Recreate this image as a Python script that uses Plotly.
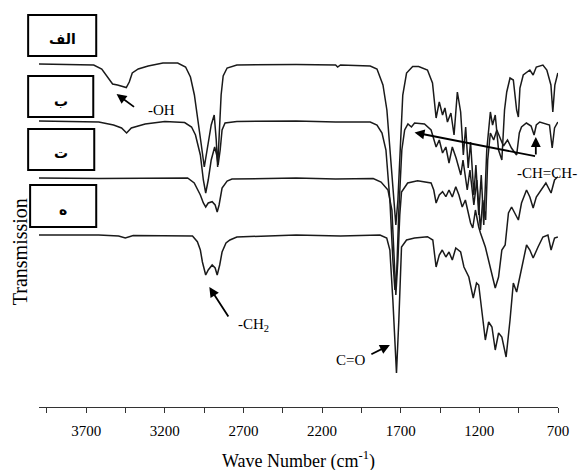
import plotly.graph_objects as go

# ---------------- data (wavenumber cm-1, transmission in arbitrary offset units) ----------------
wn_a = [4000, 3871, 3652, 3601, 3558, 3532, 3501, 3470, 3445, 3426, 3407, 3369, 3306, 3212, 3118, 3068,
        3037, 3012, 2993, 2968, 2949, 2930, 2905, 2886, 2873, 2864, 2854, 2842, 2829, 2804, 2742, 2365,
        2114, 2101, 2083, 1894, 1851, 1813, 1788, 1763, 1743, 1731, 1718, 1700, 1687, 1663, 1624, 1586,
        1530, 1498, 1475, 1455, 1434, 1419, 1403, 1381, 1361, 1340, 1319, 1302, 1287, 1271, 1256, 1235,
        1222, 1204, 1188, 1172, 1153, 1130, 1116, 1099, 1078, 1057, 1040, 1026, 1005, 984, 963, 952,
        942, 921, 879, 858, 838, 796, 771, 745, 733, 720, 701]
t_a = [336, 335.5, 335, 331, 322, 316, 315, 314, 312.5, 318, 327, 331, 334, 337, 337, 333,
       323, 305, 285, 255, 233, 250, 275, 285, 260, 233, 260, 305, 324, 332, 335, 335.5,
       335, 333, 335, 334, 331, 315, 290, 240, 195, 175, 200, 260, 305, 327, 333.5, 333.5,
       330, 317, 282, 298, 285, 292, 278, 287, 265, 308, 288, 245, 273, 232, 258, 205,
       235, 185, 225, 175, 250, 288, 275, 285, 250, 240, 290, 308, 322, 320, 290, 283,
       312, 325, 330, 325, 333, 335, 330, 315, 288, 315, 327]

wn_b = [4000, 3620, 3526, 3475, 3443, 3413, 3325, 3200, 3074, 3030, 3005, 2974, 2955, 2940, 2924, 2905,
        2883, 2870, 2861, 2848, 2836, 2817, 2742, 2365, 2114, 1894, 1851, 1819, 1794, 1769, 1750, 1737,
        1725, 1712, 1693, 1675, 1654, 1632, 1612, 1549, 1507, 1475, 1455, 1434, 1413, 1393, 1372, 1348,
        1318, 1304, 1277, 1260, 1235, 1216, 1193, 1179, 1160, 1147, 1130, 1109, 1089, 1067, 1047, 1021,
        996, 978, 963, 946, 932, 901, 871, 852, 838, 816, 783, 754, 737, 722, 701]
t_b = [279, 278, 275, 272, 267, 272, 276, 278.5, 277.5, 273, 265, 245, 220, 207, 220, 240,
       253, 245, 235, 250, 270, 277, 278.5, 279, 278, 278, 275, 267, 250, 200, 140, 110,
       130, 190, 250, 270, 276, 273, 277, 276, 270, 253, 260, 247, 253, 237, 253, 242,
       225, 240, 210, 230, 195, 220, 170, 200, 180, 240, 267, 260, 270, 261, 254, 260,
       252, 248, 245, 267, 273, 277, 274, 265, 275, 278, 276, 275, 252, 272, 278]

wn_t = [4000, 3620, 3055, 3013, 2974, 2955, 2940, 2924, 2899, 2880, 2867, 2855, 2836, 2804, 2773, 2365,
        2114, 1875, 1825, 1781, 1756, 1743, 1731, 1718, 1706, 1695, 1656, 1593, 1507, 1490, 1475, 1455,
        1434, 1413, 1393, 1372, 1350, 1330, 1309, 1289, 1256, 1242, 1225, 1204, 1193, 1162, 1130, 1099,
        1078, 1057, 1036, 1015, 995, 973, 952, 932, 900, 879, 858, 838, 806, 777, 744, 722, 701]
t_t = [222, 221.5, 222, 217, 205, 197, 193, 197, 198.3, 195, 188, 195, 212, 219, 221, 222,
       221, 221.5, 218, 210, 190, 150, 105, 140, 185, 208, 217, 219.3, 217, 210, 197, 205,
       208.3, 203.3, 210, 203, 213.3, 205, 193, 200, 177, 172, 190, 173, 167, 153, 133, 112,
       123, 150, 155, 187, 193, 187, 180, 197, 210, 203, 192, 203, 210, 217, 207, 220, 223.3]

wn_h = [4000, 3620, 3494, 3451, 3401, 3024, 2993, 2974, 2961, 2940, 2924, 2899, 2880, 2867, 2851, 2836,
        2811, 2786, 2742, 2365, 2083, 1832, 1789, 1769, 1750, 1727, 1712, 1695, 1663, 1612, 1530, 1496,
        1475, 1455, 1436, 1413, 1393, 1372, 1350, 1319, 1298, 1267, 1239, 1218, 1204, 1183, 1162, 1141,
        1120, 1099, 1078, 1057, 1030, 1005, 984, 963, 932, 900, 879, 858, 827, 796, 764, 744, 722, 701]
t_h = [165, 165, 164, 162, 164.5, 164, 158.3, 150, 138, 125, 130, 135, 132, 125, 135, 148,
       157, 160, 163, 165, 164, 165, 162, 150, 100, 27, 80, 153, 160, 162, 163.3, 160,
       133, 145, 150, 143, 148, 140, 152, 148, 133, 123, 102, 117, 115, 90, 60, 78,
       73, 50, 67, 63, 43, 80, 117, 108, 130, 155, 150, 142, 153, 163, 165, 150, 162, 163]

series = [(wn_a, t_a), (wn_b, t_b), (wn_t, t_t), (wn_h, t_h)]
sample_labels = ["الف", "ب", "ت", "ه"]

tick_vals = [3950, 3700, 3450, 3200, 2950, 2700, 2450, 2200, 1950, 1700, 1450, 1200, 950, 700]
tick_labels = ["", "3700", "", "3200", "", "2700", "", "2200", "", "1700", "", "1200", "", "700"]

# ---------------- layout helpers (pixel -> paper) ----------------
W, H = 581, 470
ML, MR, MT, MB = 39, 16, 20, 63
PW, PH = W - ML - MR, H - MT - MB


def fx(x):
    return (x - ML) / PW


def fy(y):
    return (H - MB - y) / PH


fig = go.Figure()
for wn, tr in series:
    fig.add_trace(go.Scatter(x=wn, y=tr, mode="lines",
                             line=dict(color="#1a1a1a", width=1.5),
                             showlegend=False, hoverinfo="skip"))

serif = "Liberation Serif, Times New Roman, serif"

# labelled boxes
boxes = [(28, 15, 97, 56), (28, 76, 94, 117), (28, 129, 95, 170), (30, 185, 97, 227)]
shapes = []
annotations = []
for (x0, y0, x1, y1), lab in zip(boxes, sample_labels):
    shapes.append(dict(type="rect", xref="paper", yref="paper",
                       x0=fx(x0), x1=fx(x1), y0=fy(y1), y1=fy(y0),
                       line=dict(color="black", width=2), fillcolor="rgba(0,0,0,0)"))
    annotations.append(dict(xref="paper", yref="paper", x=fx((x0 + x1) / 2), y=fy((y0 + y1) / 2 + 4),
                            text="<b>%s</b>" % lab, showarrow=False,
                            font=dict(family="DejaVu Sans", size=14, color="black"),
                            xanchor="center", yanchor="middle"))

# band labels
band_texts = [("-OH", 147, 110), ("-CH<sub>2</sub>", 239, 325), ("C=O", 338, 360), ("-CH=CH-", 521, 173)]
for txt, x, y in band_texts:
    annotations.append(dict(xref="paper", yref="paper", x=fx(x), y=fy(y), text=txt, showarrow=False,
                            font=dict(family=serif, size=15, color="black"),
                            xanchor="left", yanchor="middle"))

# arrows: head at (wavenumber, value), tail offset in pixels
arrows = [(3507, 306, 19, 14), (2917, 113, 20, 31), (1769, 55, -20, 10),
          (1612, 267.5, 122, 24), (841, 263, 0, 19)]
for hx, hy, ax, ay in arrows:
    annotations.append(dict(x=hx, y=hy, xref="x", yref="y", ax=ax, ay=ay, text="",
                            showarrow=True, arrowhead=2, arrowsize=1.1, arrowwidth=1.8,
                            arrowcolor="black", standoff=0))

# axis titles
annotations.append(dict(xref="paper", yref="paper", x=fx(302), y=fy(460),
                        text="Wave Number (cm<sup>-1</sup>)", showarrow=False,
                        font=dict(family=serif, size=18, color="black"),
                        xanchor="center", yanchor="middle"))
annotations.append(dict(xref="paper", yref="paper", x=fx(20), y=fy(252),
                        text="Transmission", textangle=-90, showarrow=False,
                        font=dict(family=serif, size=20, color="black"),
                        xanchor="center", yanchor="middle"))

fig.update_layout(
    width=W, height=H,
    margin=dict(l=ML, r=MR, t=MT, b=MB, pad=0),
    paper_bgcolor="white", plot_bgcolor="white",
    shapes=shapes, annotations=annotations,
    xaxis=dict(range=[4000, 700], showgrid=False, zeroline=False,
               showline=True, linecolor="#333", linewidth=1.3,
               ticks="outside", ticklen=5, tickwidth=1.2, tickcolor="#333",
               tickvals=tick_vals, ticktext=tick_labels, ticklabelstandoff=5,
               tickfont=dict(family=serif, size=15, color="black")),
    yaxis=dict(range=[-7, 380], visible=False, showgrid=False, zeroline=False),
)

fig.write_html("out.html", config={"displayModeBar": False},
               post_script="document.body.style.margin='0';document.body.style.overflow='hidden';")
